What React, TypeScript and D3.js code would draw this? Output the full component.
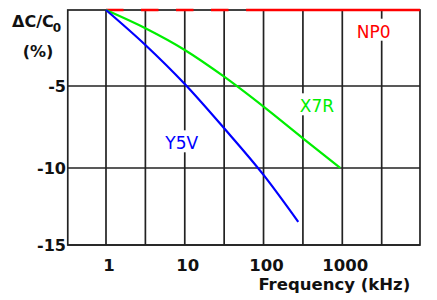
import React from "react";
import * as d3 from "d3";

const xTickValues = [1, 10, 100, 1000];
const xTickLabels = ["1", "10", "100", "1000"];
const xGridValues = [1, 3.1623, 10, 31.623, 100, 316.23, 1000, 3162.3];
const yTickValues = [-5, -10, -15];
const yTickLabels = ["-5", "-10", "-15"];

const x7rFreq = [1, 3.1623, 10, 31.623, 100, 316.23, 940];
const x7rValues = [0, -1.2, -2.63, -4.39, -6.26, -8.19, -10.0];

const y5vFreq = [1, 3.1623, 10, 31.623, 100, 276];
const y5vValues = [0, -2.3, -4.87, -7.58, -10.45, -13.5];

const np0Freq = [1, 60, 9690];
const np0Values = [0, 0, 0];

const X_MIN = 0.327;
const X_MAX = 9690;

export default function App() {
  const W = 437;
  const H = 300;
  const x = d3.scaleLog().domain([1, 1000]).range([106, 342.3]);
  const y = d3.scaleLinear().domain([0, -5, -10, -15]).range([10, 86, 168, 245]);
  const left = x(X_MIN);
  const right = x(X_MAX);
  const top = y(0);
  const bottom = y(-15);

  const line = d3
    .line<[number, number]>()
    .x((d) => x(d[0]))
    .y((d) => y(d[1]))
    .curve(d3.curveMonotoneX);

  const x7r = line(x7rFreq.map((f, i) => [f, x7rValues[i]]));
  const y5v = line(y5vFreq.map((f, i) => [f, y5vValues[i]]));
  const npDashed = d3.line<[number, number]>().x((d) => x(d[0])).y((d) => y(d[1]))([
    [np0Freq[0], np0Values[0]],
    [np0Freq[1], np0Values[1]],
  ]);
  const npSolid = d3.line<[number, number]>().x((d) => x(d[0])).y((d) => y(d[1]))([
    [np0Freq[1], np0Values[1]],
    [np0Freq[2], np0Values[2]],
  ]);

  const gridColor = "#222";
  const font = "DejaVu Sans, sans-serif";

  const labels = [
    { text: "NP0", color: "#ff0000", cx: 373.7, by: 37.7 },
    { text: "X7R", color: "#00ee00", cx: 317, by: 112.3 },
    { text: "Y5V", color: "#0000ff", cx: 181.7, by: 149.3 },
  ];

  return (
    <svg
      width={W}
      height={H}
      style={{ position: "absolute", left: 0, top: 0, background: "#fff" }}
    >
      <rect x={0} y={0} width={W} height={H} fill="#fff" />
      {/* vertical grid */}
      {xGridValues.map((v) => (
        <line key={"vx" + v} x1={x(v)} x2={x(v)} y1={top} y2={bottom} stroke={gridColor} strokeWidth={1.7} />
      ))}
      {/* horizontal grid */}
      {yTickValues.map((v) => (
        <line key={"hy" + v} x1={left} x2={right} y1={y(v)} y2={y(v)} stroke={gridColor} strokeWidth={1.7} />
      ))}
      {/* frame */}
      <rect x={left} y={top} width={right - left} height={bottom - top} fill="none" stroke={gridColor} strokeWidth={1.7} />

      {/* series labels with white background */}
      {labels.map((l) => (
        <g key={l.text}>
          <rect x={l.cx - 19} y={l.by - 19} width={38} height={22} fill="#fff" />
          <text x={l.cx} y={l.by} textAnchor="middle" fill={l.color} fontFamily={font} fontSize={17}>
            {l.text}
          </text>
        </g>
      ))}

      {/* series */}
      <path d={npDashed || ""} fill="none" stroke="#ff0000" strokeWidth={2.4} strokeDasharray="17.5,17.5" />
      <path d={npSolid || ""} fill="none" stroke="#ff0000" strokeWidth={2.4} />
      <path d={x7r || ""} fill="none" stroke="#00ee00" strokeWidth={2.2} />
      <path d={y5v || ""} fill="none" stroke="#0000ff" strokeWidth={2.2} />

      {/* y tick labels */}
      {yTickValues.map((v, i) => (
        <text
          key={"yt" + v}
          x={66}
          y={y(v)}
          dy="0.36em"
          textAnchor="end"
          fontFamily={font}
          fontWeight="bold"
          fontSize={16}
          fill="#111"
        >
          {yTickLabels[i]}
        </text>
      ))}

      {/* x tick labels */}
      {xTickValues.map((v, i) => (
        <text
          key={"xt" + v}
          x={x(v) + 3}
          y={271}
          textAnchor="middle"
          fontFamily={font}
          fontWeight="bold"
          fontSize={16.5}
          fill="#111"
        >
          {xTickLabels[i]}
        </text>
      ))}

      {/* axis titles */}
      <text x={334.3} y={289.5} textAnchor="middle" fontFamily={font} fontWeight="bold" fontSize={16.5} fill="#111">
        Frequency (kHz)
      </text>
      <text x={12} y={27.3} fontFamily={font} fontWeight="bold" fontSize={16} fill="#111">
        ΔC/C
        <tspan fontSize={12} dy={4.5} dx={-1}>0</tspan>
      </text>
      <text x={38} y={57} textAnchor="middle" fontFamily={font} fontWeight="bold" fontSize={16} fill="#111">
        (%)
      </text>
    </svg>
  );
}
